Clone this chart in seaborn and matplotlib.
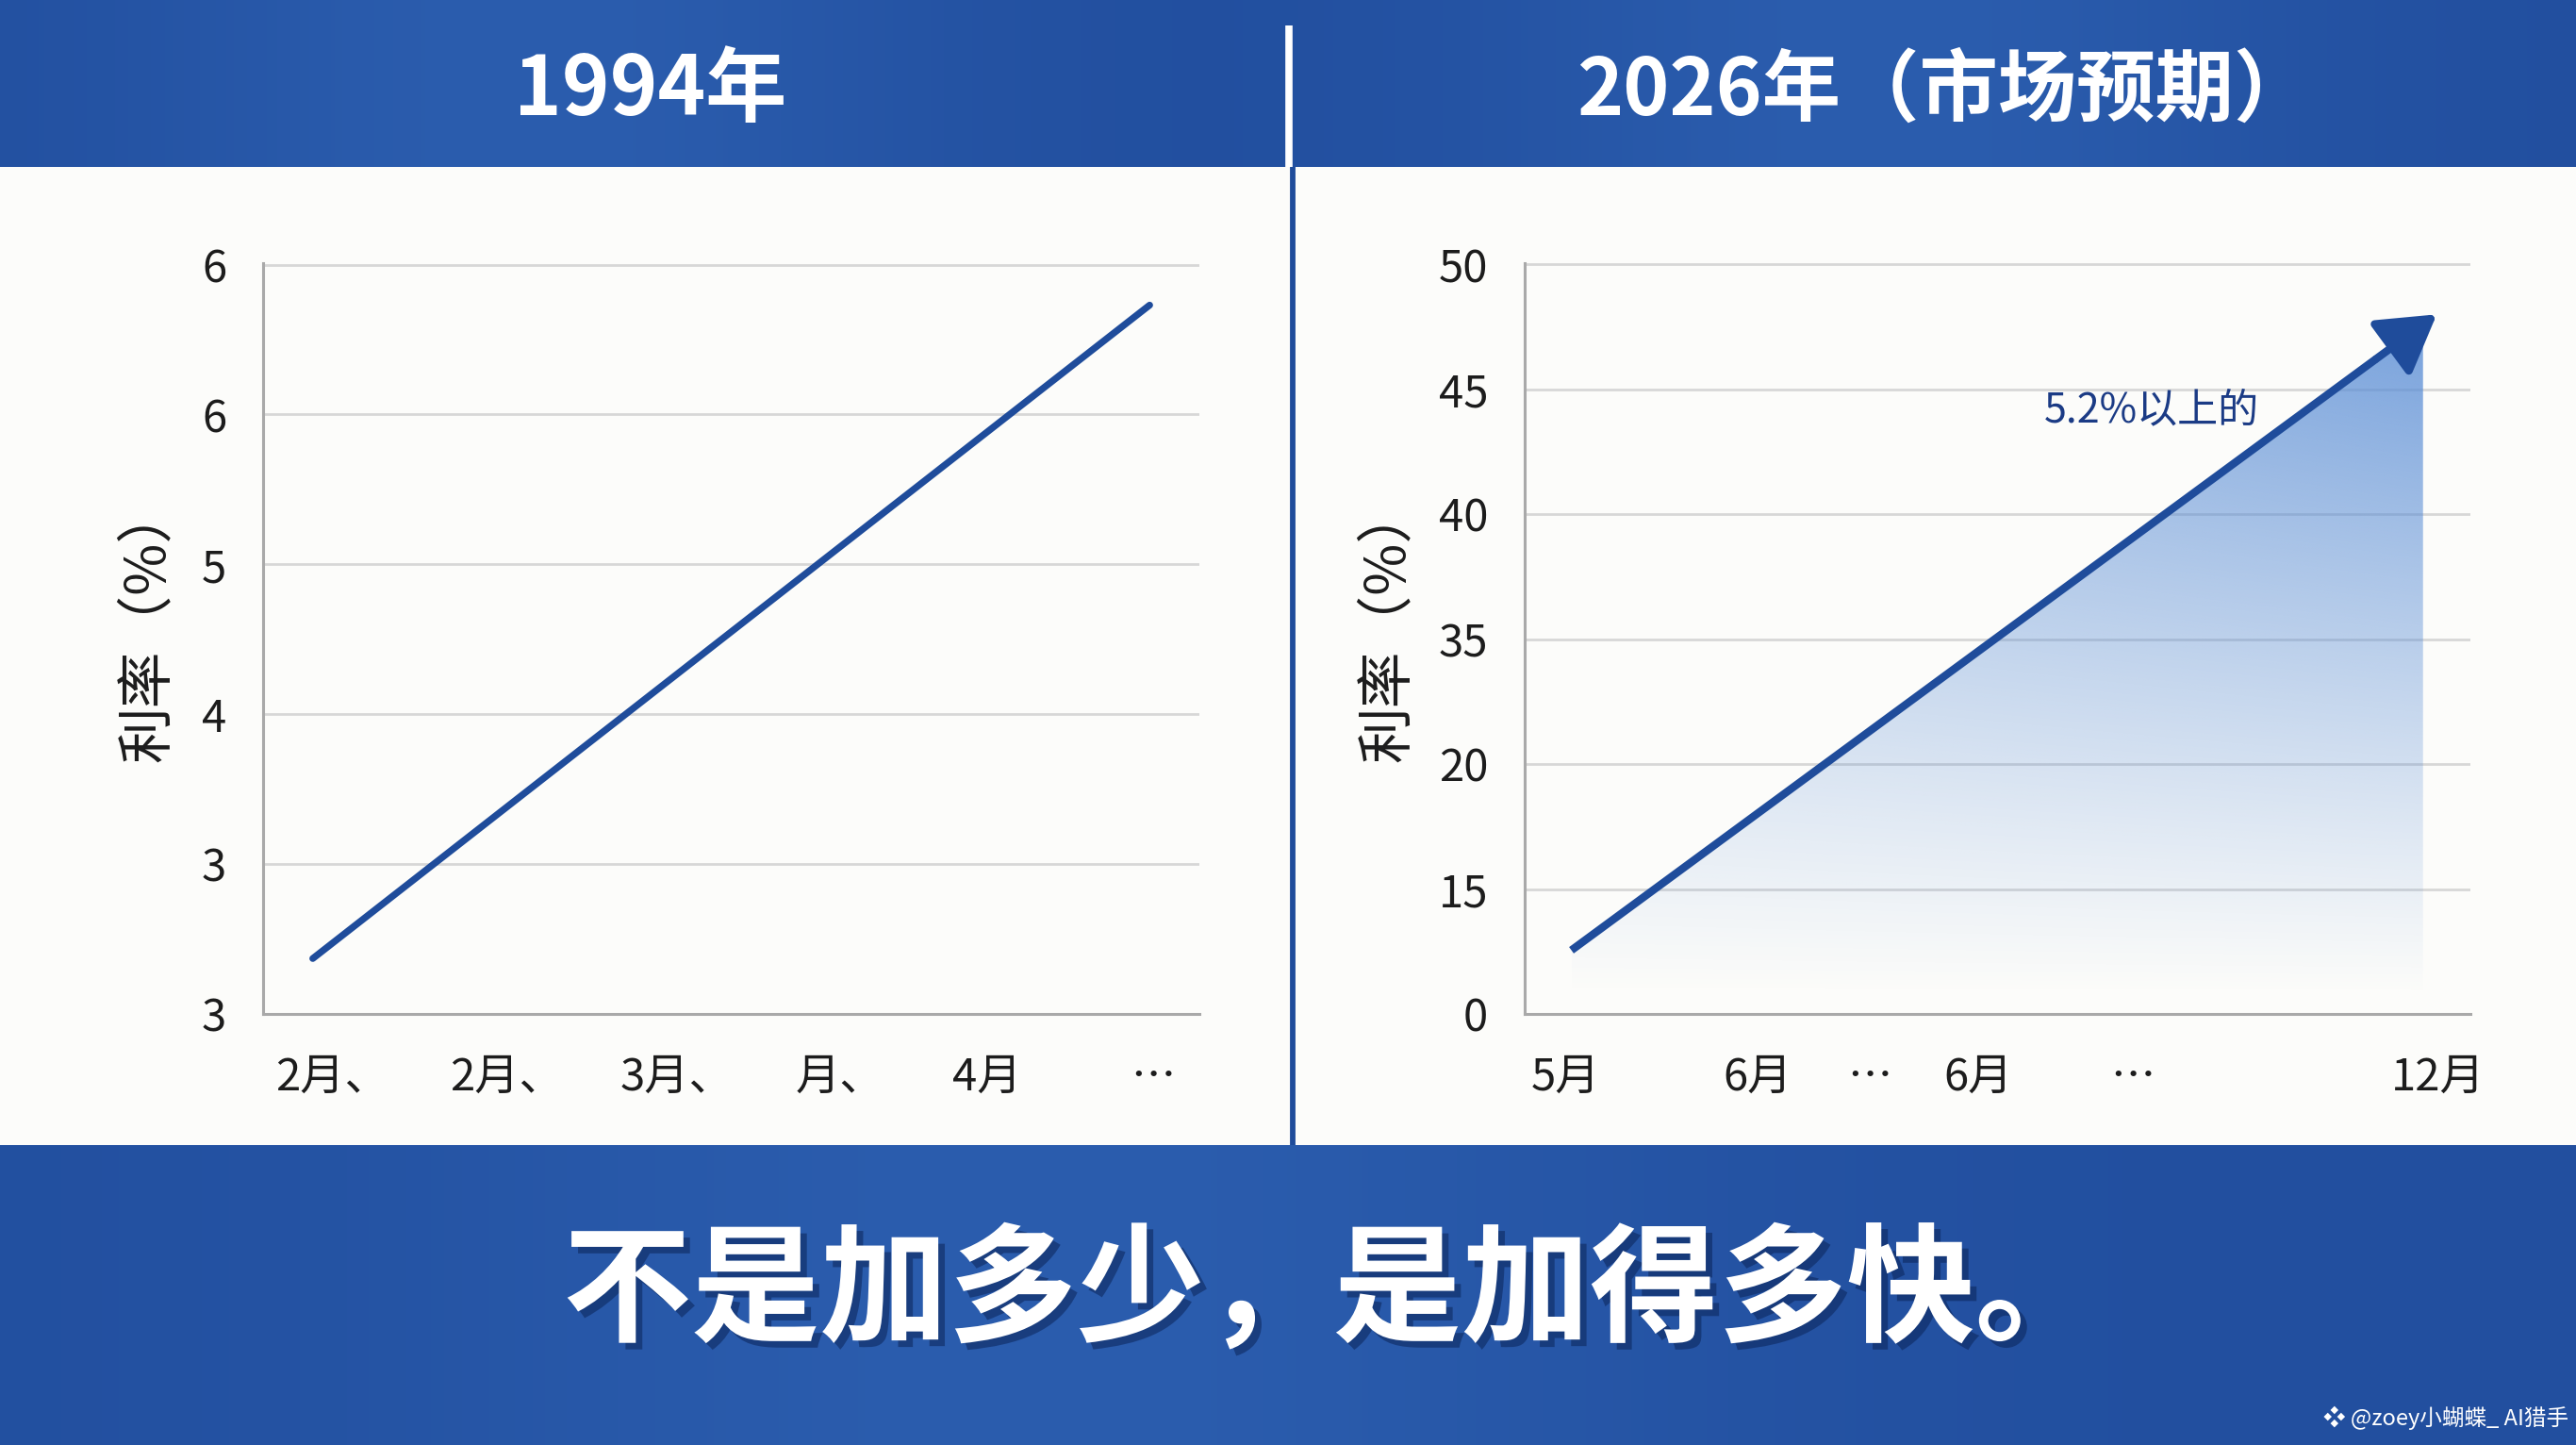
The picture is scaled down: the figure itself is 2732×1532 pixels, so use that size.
import numpy as np
import pandas as pd
import matplotlib
matplotlib.use("Agg")
import matplotlib.pyplot as plt
import seaborn as sns
from matplotlib.patches import Rectangle, Polygon
import matplotlib.patheffects as pe

# ---------------- data ----------------
left_title = "1994年"
right_title = "2026年（市场预期）"
ylabel_text = "利率（%）"

left_xpos = [0.07, 1.12, 2.15, 3.13, 4.02, 5.02]
left_xticklabels = ["2月、", "2月、", "3月、", "月、", "4月", "…"]
left_ypos = [0, 1, 2, 3, 4, 5]
left_yticklabels = ["3", "3", "4", "5", "6", "6"]
left_line_x = [-0.05, 5.0]
left_line_y = [0.37, 4.73]

right_xpos = [0, 1.54, 2.44, 3.31, 4.55, 7.0]
right_xticklabels = ["5月", "6月", "…", "6月", "…", "12月"]
right_ypos = [0, 1, 2, 3, 4, 5, 6]
right_yticklabels = ["0", "15", "20", "35", "40", "45", "50"]
right_line_x = [0.05, 6.99]
right_line_y = [0.51, 5.60]
fill_right_edge = 6.88
annot_text = "5.2%以上的"
annot_xy = (4.70, 4.83)

bottom_text = "不是加多少，是加得多快。"
watermark = "❖ @zoey小蝴蝶_ AI猎手"

# ---------------- style ----------------
sns.set_theme(style="white")
FONTS = ["Noto Sans CJK SC", "DejaVu Sans"]
plt.rcParams["font.family"] = FONTS
plt.rcParams["axes.unicode_minus"] = False

W, H = 2732, 1532
DPI = 100
fig = plt.figure(figsize=(W / DPI, H / DPI), dpi=DPI)
fig.patch.set_facecolor("#fcfcfa")

BLUE_DARK = np.array([0x22, 0x4f, 0x9f]) / 255
BLUE_LIGHT = np.array([0x2b, 0x5d, 0xae]) / 255
LINE_BLUE = "#1f4c9b"
HEADER_BOTTOM = 177
BAND_TOP = 1214

# background axes in pixel coordinates
bg = fig.add_axes([0, 0, 1, 1], zorder=-10)
bg.set_xlim(0, W)
bg.set_ylim(H, 0)
bg.axis("off")
bg.add_patch(Rectangle((0, HEADER_BOTTOM), W, BAND_TOP - HEADER_BOTTOM,
                       facecolor="#fcfcfa", edgecolor="none"))


def band_gradient(centers, width):
    xs = np.linspace(0, W, 600)
    w = np.zeros_like(xs)
    for c in centers:
        w = np.maximum(w, np.exp(-((xs - c) / width) ** 2))
    cols = BLUE_DARK[None, :] + (BLUE_LIGHT - BLUE_DARK)[None, :] * w[:, None]
    return cols[None, :, :]


bg.imshow(band_gradient([560, 2000], 420), extent=(0, W, HEADER_BOTTOM, 0),
          aspect="auto", interpolation="bilinear", zorder=0)
bg.imshow(band_gradient([1100], 700), extent=(0, W, H, BAND_TOP),
          aspect="auto", interpolation="bilinear", zorder=0)
# dividers
bg.plot([1367, 1367], [27, HEADER_BOTTOM], color="white", lw=5.5,
        solid_capstyle="butt", zorder=2)
bg.plot([1371, 1371], [HEADER_BOTTOM, BAND_TOP], color=LINE_BLUE, lw=4.2,
        solid_capstyle="butt", zorder=2)

# titles
bg.text(690, 97, left_title, color="white", fontsize=62, fontweight="bold",
        ha="center", va="center", family=FONTS, zorder=3)
bg.text(2062, 97, right_title, color="white", fontsize=60, fontweight="bold",
        ha="center", va="center", family=FONTS, zorder=3)

# bottom slogan
bg.text(1414, 1372, bottom_text, color="white", fontsize=98, fontweight="bold",
        ha="center", va="center", family=FONTS, zorder=3,
        path_effects=[pe.SimplePatchShadow(offset=(5, -5), shadow_rgbFace="#0b2559", alpha=0.55),
                      pe.Normal()])
bg.text(2724, 1503, watermark, color="white", fontsize=17,
        ha="right", va="center", family=FONTS, zorder=3)

TICK_COLOR = "#1c1c1c"
SPINE_COLOR = "#a9a9a9"
GRID_COLOR = "#d7d7d7"


def style_axes(ax):
    ax.set_facecolor("none")
    for s in ["top", "right"]:
        ax.spines[s].set_visible(False)
    for s in ["left", "bottom"]:
        ax.spines[s].set_color(SPINE_COLOR)
        ax.spines[s].set_linewidth(2.2)
    ax.grid(axis="y", color=GRID_COLOR, lw=2.0)
    ax.grid(axis="x", visible=False)
    ax.tick_params(axis="y", length=0, pad=28, labelsize=34, labelcolor=TICK_COLOR)
    ax.tick_params(axis="x", length=0, pad=31, labelsize=34, labelcolor=TICK_COLOR)
    ax.set_axisbelow(True)


# ---------------- left chart ----------------
ax1 = fig.add_axes([279 / W, 1 - 1075 / H, (1272 - 279) / W, (1075 - 279) / H])
style_axes(ax1)
df_left = pd.DataFrame({"x": left_line_x, "y": left_line_y})
sns.lineplot(data=df_left, x="x", y="y", ax=ax1, color=LINE_BLUE, lw=5.2,
             solid_capstyle="round")
ax1.set_xlim(-0.35, 5.30)
ax1.set_ylim(0, 5.01)
ax1.set_xticks(left_xpos)
ax1.set_xticklabels(left_xticklabels)
ax1.set_yticks(left_ypos)
ax1.set_yticklabels(left_yticklabels)
ax1.set_xlabel("")
ax1.set_ylabel(ylabel_text, fontsize=43, color=TICK_COLOR, va="center", ha="center")
ax1.yaxis.set_label_coords(-0.123, 0.52)

# ---------------- right chart ----------------
ax2 = fig.add_axes([1617 / W, 1 - 1075 / H, (2620 - 1617) / W, (1075 - 279) / H])
style_axes(ax2)
x0, x1 = right_line_x
y0, y1 = right_line_y
y_edge = y0 + (y1 - y0) * (fill_right_edge - x0) / (x1 - x0)

# gradient fill under the arrow
gx = np.linspace(x0, fill_right_edge, 300)
gy = np.linspace(0, y_edge, 300)
GX, GY = np.meshgrid(gx, gy)
alpha = 0.82 * np.clip((GY - 0.15) / (y1 - 0.15), 0, 1) ** 1.05 * (0.72 + 0.28 * GX / fill_right_edge)
rgba = np.zeros(GX.shape + (4,))
rgba[..., 0] = 0x58 / 255
rgba[..., 1] = 0x8c / 255
rgba[..., 2] = 0xd5 / 255
rgba[..., 3] = alpha
im = ax2.imshow(rgba, extent=(x0, fill_right_edge, 0, y_edge), origin="lower",
                aspect="auto", interpolation="bilinear", zorder=1)
poly = Polygon([(x0, y0), (fill_right_edge, y_edge), (fill_right_edge, 0), (x0, 0)],
               closed=True, transform=ax2.transData, facecolor="none", edgecolor="none")
ax2.add_patch(poly)
im.set_clip_path(poly)

# arrow: shaft via seaborn, head via annotate
frac = 0.93
xm = x0 + (x1 - x0) * frac
ym = y0 + (y1 - y0) * frac
df_right = pd.DataFrame({"x": [x0, xm], "y": [y0, ym]})
sns.lineplot(data=df_right, x="x", y="y", ax=ax2, color=LINE_BLUE, lw=6.0,
             solid_capstyle="butt", zorder=3)
ax2.annotate("", xy=(x1, y1), xytext=(xm, ym),
             arrowprops=dict(arrowstyle="-|>,head_length=0.4,head_width=0.24",
                             color=LINE_BLUE, lw=6.0, mutation_scale=92,
                             shrinkA=0, shrinkB=0),
             zorder=4)
ax2.text(annot_xy[0], annot_xy[1], annot_text, fontsize=31, color="#1b3b85",
         ha="center", va="center", family=FONTS, zorder=5)

ax2.set_xlim(-0.325, 7.26)
ax2.set_ylim(0, 6.01)
ax2.set_xticks(right_xpos)
ax2.set_xticklabels(right_xticklabels)
ax2.set_yticks(right_ypos)
ax2.set_yticklabels(right_yticklabels)
ax2.set_xlabel("")
ax2.set_ylabel(ylabel_text, fontsize=43, color=TICK_COLOR, va="center", ha="center")
ax2.yaxis.set_label_coords(-0.1446, 0.52)

fig.savefig("out.png", dpi=DPI, facecolor=fig.get_facecolor())
